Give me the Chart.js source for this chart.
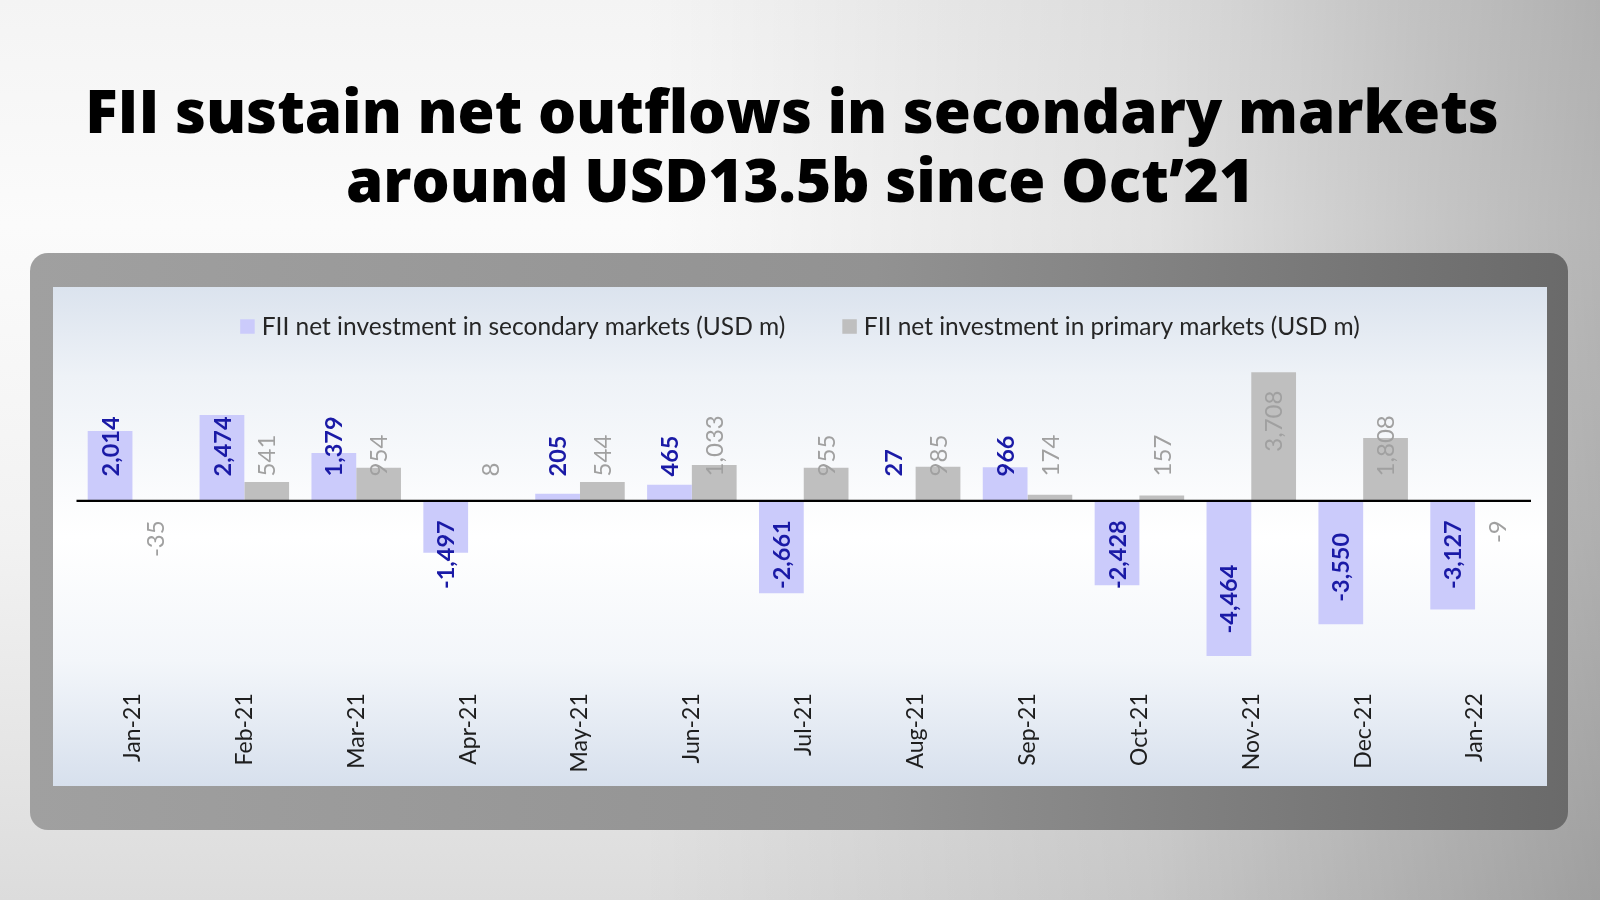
<!DOCTYPE html>
<html>
<head>
<meta charset="utf-8">
<script src="https://cdn.jsdelivr.net/npm/chart.js@4.4.0/dist/chart.umd.min.js"></script>
<style>
  html, body { margin:0; padding:0; }
  body {
    width:1600px; height:900px; overflow:hidden; position:relative;
    background:
      linear-gradient(90deg, rgba(0,0,0,0) 0%, rgba(0,0,0,0) 40%, rgba(0,0,0,0.10) 72%, rgba(0,0,0,0.28) 100%),
      linear-gradient(180deg, #f4f4f4 0%, #fbfbfb 25%, #f2f2f2 60%, #dcdcdc 100%);
  }
  #title {
    position:absolute; left:0; top:76px; width:1584px; text-align:center;
    font-family:'Open Sans', sans-serif; font-weight:800; font-size:60px; line-height:69px;
    color:#000;
  }
  #title .l2 { position:relative; left:8px; }
  #frame {
    position:absolute; left:30px; top:253px; width:1538px; height:577px; border-radius:18px;
    background: linear-gradient(90deg, #a0a0a0 0%, #929292 55%, #6a6a6a 100%);
  }
  #panel {
    position:absolute; left:53px; top:287px; width:1494px; height:499px;
    background: linear-gradient(180deg, #dbe3ee 0%, #eef2f7 18%, #ffffff 50%, #f3f6fa 75%, #d7e0ed 100%);
  }
  #c { position:absolute; left:0; top:0; }
</style>
</head>
<body>
<div id="title">FII sustain net outflows in secondary markets<br><span class="l2">around USD13.5b since Oct’21</span></div>
<div id="frame"></div>
<div id="panel"><canvas id="c" width="1494" height="499"></canvas></div>
<script>
const categories = ['Jan-21','Feb-21','Mar-21','Apr-21','May-21','Jun-21','Jul-21','Aug-21','Sep-21','Oct-21','Nov-21','Dec-21','Jan-22'];
const secondaryValues = [2014, 2474, 1379, -1497, 205, 465, -2661, 27, 966, -2428, -4464, -3550, -3127];
const primaryValues = [-35, 541, 954, 8, 544, 1033, 955, 985, 174, 157, 3708, 1808, -9];
const seriesNames = ['FII net investment in secondary markets (USD m)', 'FII net investment in primary markets (USD m)'];

const FONT = 'Lato, Carlito, Calibri, sans-serif';
const labelStyles = [
  { color:'#1a1aa6', font:'bold 23.5px ' + FONT },
  { color:'#a0a0a0', font:'normal 24px ' + FONT }
];

const fmt = v => v.toLocaleString('en-US');

const legendPlugin = {
  id:'customLegend',
  afterDraw(chart) {
    const ctx = chart.ctx;
    ctx.save();
    ctx.font = '24.5px ' + FONT;
    ctx.textBaseline = 'middle';
    const box = 14.5, gapBox = 7, gapItem = 57;
    const items = chart.data.datasets.map(d => ({ text:d.label, color:d.backgroundColor, w: ctx.measureText(d.label).width }));
    const total = items.reduce((s,it)=> s + box + gapBox + it.w, 0) + gapItem*(items.length-1);
    let x = chart.width/2 - total/2;
    const y = 39.5;
    items.forEach(it => {
      ctx.fillStyle = it.color;
      ctx.fillRect(x, y - box/2, box, box);
      x += box + gapBox;
      ctx.fillStyle = '#262626';
      ctx.textAlign = 'left';
      ctx.fillText(it.text, x, y + 1);
      x += it.w + gapItem;
    });
    ctx.restore();
  }
};

const baselineAndLabels = {
  id:'baselineAndLabels',
  afterDatasetsDraw(chart) {
    const ctx = chart.ctx;
    const ys = chart.scales.y;
    const base = ys.getPixelForValue(0);
    ctx.save();
    ctx.strokeStyle = '#000';
    ctx.lineWidth = 2.3;
    ctx.beginPath();
    ctx.moveTo(chart.chartArea.left, base);
    ctx.lineTo(chart.chartArea.right, base);
    ctx.stroke();

    chart.data.datasets.forEach((ds, di) => {
      const meta = chart.getDatasetMeta(di);
      const st = labelStyles[di];
      ctx.font = st.font;
      ctx.fillStyle = st.color;
      ctx.textBaseline = 'middle';
      ctx.textAlign = 'left';
      meta.data.forEach((bar, i) => {
        const v = ds.data[i];
        const txt = fmt(v);
        const len = ctx.measureText(txt).width;
        const end = ys.getPixelForValue(v);
        let startY;
        if (v >= 0) {
          startY = Math.min(base - 24.5, end + 18.4 + len);
        } else {
          startY = Math.max(base + 19.4 + len, end - 22.4);
        }
        ctx.save();
        ctx.translate(bar.x, startY);
        ctx.rotate(-Math.PI/2);
        ctx.fillText(txt, 0, 1);
        ctx.restore();
      });
    });
    ctx.restore();
  }
};

new Chart(document.getElementById('c'), {
  type:'bar',
  data:{
    labels: categories,
    datasets:[
      { label: seriesNames[0], data: secondaryValues, backgroundColor:'#cbcbfb', borderWidth:0 },
      { label: seriesNames[1], data: primaryValues, backgroundColor:'#bfbfbf', borderWidth:0 }
    ]
  },
  options:{
    responsive:false,
    animation:false,
    devicePixelRatio:1,
    categoryPercentage:0.8,
    barPercentage:1.0,
    layout:{ padding:{ left:23.5, right:16, top:75, bottom:0 } },
    plugins:{ legend:{ display:false }, tooltip:{ enabled:false } },
    scales:{
      x:{
        grid:{ display:false, drawTicks:false },
        border:{ display:false },
        ticks:{ minRotation:90, maxRotation:90, autoSkip:false, padding:9.5, color:'#1e1e1e', font:{ family:FONT, size:23 } },
        afterFit: s => { s.height = 102.3; }
      },
      y:{
        min:-5265, max:4000,
        grid:{ display:false, drawTicks:false },
        border:{ display:false },
        ticks:{ display:false },
        afterFit: s => { s.width = 0; }
      }
    }
  },
  plugins:[legendPlugin, baselineAndLabels]
});
</script>
</body>
</html>
